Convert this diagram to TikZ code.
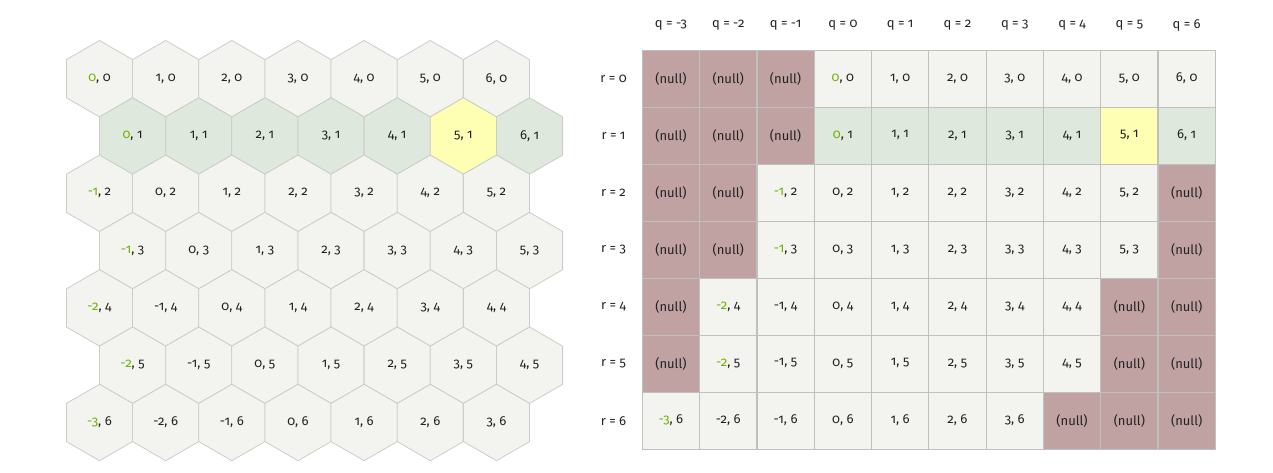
\documentclass[tikz,border=0pt]{standalone}
\usepackage{fontspec}
\setmainfont{Fira Sans}[Numbers=OldStyle]
\usetikzlibrary{shapes.geometric}
\definecolor{cellfill}{RGB}{243,243,239}
\definecolor{rowfill}{RGB}{223,232,221}
\definecolor{pickfill}{RGB}{255,255,180}
\definecolor{nullfill}{RGB}{192,162,162}
\definecolor{cellline}{RGB}{204,204,200}
\definecolor{gridline}{RGB}{192,192,190}
\definecolor{firstq}{RGB}{110,180,0}
\definecolor{labeltext}{RGB}{34,34,34}

\begin{document}
\begin{tikzpicture}[x=1pt, y=-1pt,
  every node/.style={font=\fontsize{13}{15}\selectfont, text=labeltext},
  hex/.style={regular polygon, regular polygon sides=6, shape border rotate=30,
              minimum size=76.4pt, inner sep=0pt, outer sep=0pt,
              draw=cellline, fill=cellfill, line width=0.8pt},
  cell/.style={rectangle, minimum width=57.3pt, minimum height=57pt,
               inner sep=0pt, outer sep=0pt, draw=gridline, fill=cellfill,
               line width=1.2pt},
  nullcell/.style={cell, fill=nullfill}
]
\useasboundingbox (0,0) rectangle (1273,473);

% offset hex map
\foreach \r in {0,...,6}{
  \foreach \c in {0,...,6}{
    \pgfmathtruncatemacro{\q}{\c-floor(\r/2)}
    \pgfmathsetmacro{\hx}{99.5+66.16*\c+33.08*mod(\r,2)}
    \pgfmathsetmacro{\hy}{78.7+57.3*\r}
    \ifnum\c=0 \def\qc{firstq}\else\def\qc{labeltext}\fi
    \def\hexcol{cellfill}
    \ifnum\r=1 \def\hexcol{rowfill}\ifnum\c=5 \def\hexcol{pickfill}\fi\fi
    \node[hex, fill=\hexcol] (h\c-\r) at (\hx,\hy) {{\color{\qc}\q}, \r};
  }
}

% axial storage grid
\foreach \c in {0,...,9}{
  \pgfmathtruncatemacro{\q}{\c-3}
  \node (qh\c) at (670.95+57.3*\c,25) {q = \q};
}
\foreach \r in {0,...,6}{
  \node (rh\r) at (613.5,78.8+57*\r) {r = \r};
  \foreach \c in {0,...,9}{
    \pgfmathtruncatemacro{\q}{\c-3}
    \pgfmathtruncatemacro{\qmin}{-floor(\r/2)}
    \pgfmathtruncatemacro{\qmax}{6-floor(\r/2)}
    \pgfmathsetmacro{\gx}{670.95+57.3*\c}
    \pgfmathsetmacro{\gy}{78.8+57*\r}
    \ifnum\q=\qmin \def\qc{firstq}\else\def\qc{labeltext}\fi
    \def\gridcol{cellfill}
    \ifnum\r=1 \def\gridcol{rowfill}\ifnum\q=5 \def\gridcol{pickfill}\fi\fi
    \ifnum\q<\qmin
      \node[nullcell] (g\c-\r) at (\gx,\gy) {\raisebox{-2pt}{(null)}};
    \else\ifnum\q>\qmax
      \node[nullcell] (g\c-\r) at (\gx,\gy) {\raisebox{-2pt}{(null)}};
    \else
      \node[cell, fill=\gridcol] (g\c-\r) at (\gx,\gy) {\raisebox{3pt}{{\color{\qc}\q}, \r}};
    \fi\fi
  }
}
\end{tikzpicture}
\end{document}
